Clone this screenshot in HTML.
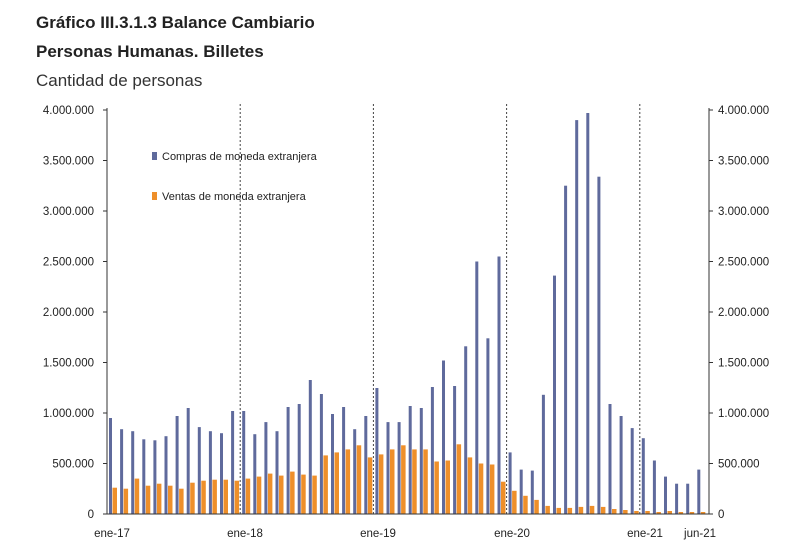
<!DOCTYPE html>
<html><head><meta charset="utf-8"><style>
body{margin:0;background:#fff;}
svg{display:block;font-family:"Liberation Sans",sans-serif;}
</style></head><body>
<svg width="800" height="546" viewBox="0 0 800 546">
<text x="36" y="28" font-size="17" font-weight="bold" fill="#222">Gráfico III.3.1.3 Balance Cambiario</text>
<text x="36" y="57" font-size="17" font-weight="bold" fill="#222">Personas Humanas. Billetes</text>
<text x="36" y="86" font-size="17" fill="#333">Cantidad de personas</text>
<g transform="translate(0,514) scale(1,-1)" fill="#5f6a9c">
<rect x="109" y="0" width="3" height="96"/>
<rect x="120.1" y="0" width="3" height="84.8"/>
<rect x="131.2" y="0" width="3" height="82.8"/>
<rect x="142.3" y="0" width="3" height="74.7"/>
<rect x="153.4" y="0" width="3" height="73.7"/>
<rect x="164.5" y="0" width="3" height="77.8"/>
<rect x="175.6" y="0" width="3" height="98"/>
<rect x="186.7" y="0" width="3" height="106"/>
<rect x="197.8" y="0" width="3" height="86.9"/>
<rect x="208.9" y="0" width="3" height="82.8"/>
<rect x="220" y="0" width="3" height="80.8"/>
<rect x="231.1" y="0" width="3" height="103"/>
<rect x="242.2" y="0" width="3" height="103"/>
<rect x="253.3" y="0" width="3" height="79.8"/>
<rect x="264.4" y="0" width="3" height="91.9"/>
<rect x="275.5" y="0" width="3" height="82.8"/>
<rect x="286.6" y="0" width="3" height="107"/>
<rect x="297.7" y="0" width="3" height="110"/>
<rect x="308.8" y="0" width="3" height="134"/>
<rect x="319.9" y="0" width="3" height="120"/>
<rect x="331" y="0" width="3" height="100"/>
<rect x="342.1" y="0" width="3" height="107"/>
<rect x="353.2" y="0" width="3" height="84.8"/>
<rect x="364.3" y="0" width="3" height="98"/>
<rect x="375.4" y="0" width="3" height="126"/>
<rect x="386.5" y="0" width="3" height="91.9"/>
<rect x="397.6" y="0" width="3" height="91.9"/>
<rect x="408.7" y="0" width="3" height="108"/>
<rect x="419.8" y="0" width="3" height="106"/>
<rect x="430.9" y="0" width="3" height="127"/>
<rect x="442" y="0" width="3" height="153.5"/>
<rect x="453.1" y="0" width="3" height="128"/>
<rect x="464.2" y="0" width="3" height="167.7"/>
<rect x="475.3" y="0" width="3" height="252.5"/>
<rect x="486.4" y="0" width="3" height="175.7"/>
<rect x="497.5" y="0" width="3" height="257.5"/>
<rect x="508.6" y="0" width="3" height="61.6"/>
<rect x="519.7" y="0" width="3" height="44.4"/>
<rect x="530.8" y="0" width="3" height="43.4"/>
<rect x="541.9" y="0" width="3" height="119.2"/>
<rect x="553" y="0" width="3" height="238.4"/>
<rect x="564.1" y="0" width="3" height="328.3"/>
<rect x="575.2" y="0" width="3" height="393.9"/>
<rect x="586.3" y="0" width="3" height="401"/>
<rect x="597.4" y="0" width="3" height="337.3"/>
<rect x="608.5" y="0" width="3" height="110"/>
<rect x="619.6" y="0" width="3" height="98"/>
<rect x="630.7" y="0" width="3" height="85.9"/>
<rect x="641.8" y="0" width="3" height="75.8"/>
<rect x="652.9" y="0" width="3" height="53.5"/>
<rect x="664" y="0" width="3" height="37.4"/>
<rect x="675.1" y="0" width="3" height="30.3"/>
<rect x="686.2" y="0" width="3" height="30.3"/>
<rect x="697.3" y="0" width="3" height="44.4"/>
</g>
<g transform="translate(0,514) scale(1,-1)" fill="#ee8f2a">
<rect x="112.5" y="0" width="4.5" height="26.3"/>
<rect x="123.6" y="0" width="4.5" height="25.3"/>
<rect x="134.7" y="0" width="4.5" height="35.4"/>
<rect x="145.8" y="0" width="4.5" height="28.3"/>
<rect x="156.9" y="0" width="4.5" height="30.3"/>
<rect x="168" y="0" width="4.5" height="28.3"/>
<rect x="179.1" y="0" width="4.5" height="25.3"/>
<rect x="190.2" y="0" width="4.5" height="31.3"/>
<rect x="201.3" y="0" width="4.5" height="33.3"/>
<rect x="212.4" y="0" width="4.5" height="34.3"/>
<rect x="223.5" y="0" width="4.5" height="34.3"/>
<rect x="234.6" y="0" width="4.5" height="33.3"/>
<rect x="245.7" y="0" width="4.5" height="35.4"/>
<rect x="256.8" y="0" width="4.5" height="37.4"/>
<rect x="267.9" y="0" width="4.5" height="40.4"/>
<rect x="279" y="0" width="4.5" height="38.4"/>
<rect x="290.1" y="0" width="4.5" height="42.4"/>
<rect x="301.2" y="0" width="4.5" height="39.4"/>
<rect x="312.3" y="0" width="4.5" height="38.4"/>
<rect x="323.4" y="0" width="4.5" height="58.6"/>
<rect x="334.5" y="0" width="4.5" height="61.6"/>
<rect x="345.6" y="0" width="4.5" height="64.6"/>
<rect x="356.7" y="0" width="4.5" height="68.7"/>
<rect x="367.8" y="0" width="4.5" height="56.6"/>
<rect x="378.9" y="0" width="4.5" height="59.6"/>
<rect x="390" y="0" width="4.5" height="64.6"/>
<rect x="401.1" y="0" width="4.5" height="68.7"/>
<rect x="412.2" y="0" width="4.5" height="64.6"/>
<rect x="423.3" y="0" width="4.5" height="64.6"/>
<rect x="434.4" y="0" width="4.5" height="52.5"/>
<rect x="445.5" y="0" width="4.5" height="53.5"/>
<rect x="456.6" y="0" width="4.5" height="69.7"/>
<rect x="467.7" y="0" width="4.5" height="56.6"/>
<rect x="478.8" y="0" width="4.5" height="50.5"/>
<rect x="489.9" y="0" width="4.5" height="49.5"/>
<rect x="501" y="0" width="4.5" height="32.3"/>
<rect x="512.1" y="0" width="4.5" height="23.2"/>
<rect x="523.2" y="0" width="4.5" height="18.2"/>
<rect x="534.3" y="0" width="4.5" height="14.1"/>
<rect x="545.4" y="0" width="4.5" height="8.1"/>
<rect x="556.5" y="0" width="4.5" height="6.1"/>
<rect x="567.6" y="0" width="4.5" height="6.1"/>
<rect x="578.7" y="0" width="4.5" height="7.1"/>
<rect x="589.8" y="0" width="4.5" height="8.1"/>
<rect x="600.9" y="0" width="4.5" height="7.1"/>
<rect x="612" y="0" width="4.5" height="5"/>
<rect x="623.1" y="0" width="4.5" height="4"/>
<rect x="634.2" y="0" width="4.5" height="3"/>
<rect x="645.3" y="0" width="4.5" height="3"/>
<rect x="656.4" y="0" width="4.5" height="2"/>
<rect x="667.5" y="0" width="4.5" height="3"/>
<rect x="678.6" y="0" width="4.5" height="2"/>
<rect x="689.7" y="0" width="4.5" height="2"/>
<rect x="700.8" y="0" width="4.5" height="2"/>
</g>
<g stroke="#444" stroke-width="1" stroke-dasharray="2,2">
<line x1="240.2" y1="104" x2="240.2" y2="514"/>
<line x1="373.4" y1="104" x2="373.4" y2="514"/>
<line x1="506.6" y1="104" x2="506.6" y2="514"/>
<line x1="639.8" y1="104" x2="639.8" y2="514"/>
</g>
<g stroke="#333" stroke-width="1">
<line x1="107" y1="108" x2="107" y2="514"/>
<line x1="709" y1="108" x2="709" y2="514"/>
<line x1="107" y1="514" x2="709" y2="514"/>
<line x1="103" y1="514" x2="107" y2="514"/><line x1="709" y1="514" x2="713" y2="514"/>
<line x1="103" y1="463.5" x2="107" y2="463.5"/><line x1="709" y1="463.5" x2="713" y2="463.5"/>
<line x1="103" y1="413" x2="107" y2="413"/><line x1="709" y1="413" x2="713" y2="413"/>
<line x1="103" y1="362.5" x2="107" y2="362.5"/><line x1="709" y1="362.5" x2="713" y2="362.5"/>
<line x1="103" y1="312" x2="107" y2="312"/><line x1="709" y1="312" x2="713" y2="312"/>
<line x1="103" y1="261.5" x2="107" y2="261.5"/><line x1="709" y1="261.5" x2="713" y2="261.5"/>
<line x1="103" y1="211" x2="107" y2="211"/><line x1="709" y1="211" x2="713" y2="211"/>
<line x1="103" y1="160.5" x2="107" y2="160.5"/><line x1="709" y1="160.5" x2="713" y2="160.5"/>
<line x1="103" y1="110" x2="107" y2="110"/><line x1="709" y1="110" x2="713" y2="110"/>
</g>
<g font-size="11.5" fill="#222" text-anchor="end">
<text x="94" y="518">0</text>
<text x="94" y="467.5">500.000</text>
<text x="94" y="417">1.000.000</text>
<text x="94" y="366.5">1.500.000</text>
<text x="94" y="316">2.000.000</text>
<text x="94" y="265.5">2.500.000</text>
<text x="94" y="215">3.000.000</text>
<text x="94" y="164.5">3.500.000</text>
<text x="94" y="114">4.000.000</text>
</g>
<g font-size="11.5" fill="#222">
<text x="718" y="518">0</text>
<text x="718" y="467.5">500.000</text>
<text x="718" y="417">1.000.000</text>
<text x="718" y="366.5">1.500.000</text>
<text x="718" y="316">2.000.000</text>
<text x="718" y="265.5">2.500.000</text>
<text x="718" y="215">3.000.000</text>
<text x="718" y="164.5">3.500.000</text>
<text x="718" y="114">4.000.000</text>
</g>
<g font-size="11.5" fill="#222" text-anchor="middle">
<text x="112" y="537">ene-17</text>
<text x="245" y="537">ene-18</text>
<text x="378" y="537">ene-19</text>
<text x="512" y="537">ene-20</text>
<text x="645" y="537">ene-21</text>
<text x="700" y="537">jun-21</text>
</g>
<rect x="152" y="152" width="5" height="8" fill="#5f6a9c"/>
<text x="162" y="160" font-size="11" fill="#222">Compras de moneda extranjera</text>
<rect x="152" y="192" width="5" height="8" fill="#ee8f2a"/>
<text x="162" y="200" font-size="11" fill="#222">Ventas de moneda extranjera</text>
</svg>
</body></html>
